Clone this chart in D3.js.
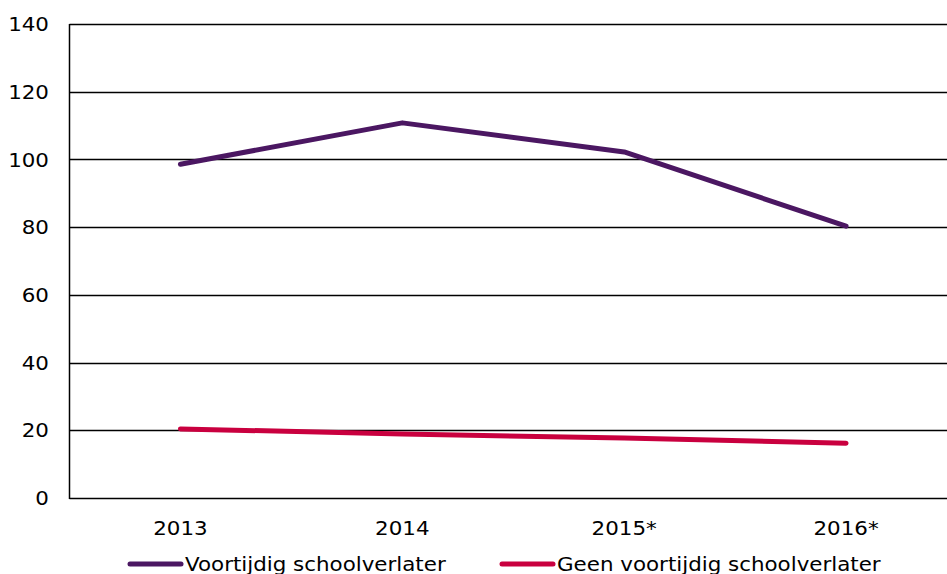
<!DOCTYPE html>
<html>
<head>
<meta charset="utf-8">
<script src="https://cdn.jsdelivr.net/npm/d3@7"></script>
<style>
  body { margin: 0; background: #fff; }
  svg text { font-family: "DejaVu Sans", Verdana, sans-serif; font-size: 20px; fill: #000; }
</style>
</head>
<body>
<svg id="chart" width="947" height="574"></svg>
<script>
var years = ["2013", "2014", "2015*", "2016*"];
var voortijdig = [98.6, 110.8, 102.2, 80.3];
var geenVoortijdig = [20.4, 18.9, 17.7, 16.2];
var yTicks = [0, 20, 40, 60, 80, 100, 120, 140];

var series = [
  { name: "Voortijdig schoolverlater", values: voortijdig, color: "#4b1762" },
  { name: "Geen voortijdig schoolverlater", values: geenVoortijdig, color: "#c9003f" }
];

var svg = d3.select("#chart");
var plotLeft = 69.5, plotTop = 24, plotBottom = 498, plotRight = 957;
var stretch = 1.07; // reference font is a bit wider than DejaVu

var x = d3.scalePoint().domain(years).range([plotLeft, plotRight]).padding(0.5);
var y = d3.scaleLinear().domain([0, 140]).range([plotBottom, plotTop]);

// gridlines
svg.append("g")
  .selectAll("line")
  .data(yTicks)
  .enter().append("line")
    .attr("x1", plotLeft).attr("x2", 947)
    .attr("y1", function(d) { return Math.round(y(d)) + 0.5; })
    .attr("y2", function(d) { return Math.round(y(d)) + 0.5; })
    .attr("stroke", "#000").attr("stroke-width", 1.5);

// y axis line
svg.append("line")
  .attr("x1", plotLeft).attr("x2", plotLeft)
  .attr("y1", plotTop).attr("y2", plotBottom + 1)
  .attr("stroke", "#000").attr("stroke-width", 1.5);

// y labels
svg.append("g")
  .selectAll("text")
  .data(yTicks)
  .enter().append("text")
    .attr("transform", function(d) { return "translate(49," + y(d) + ") scale(" + stretch + ",1)"; })
    .attr("dy", "0.36em")
    .attr("text-anchor", "end")
    .text(function(d) { return d; });

// x labels
svg.append("g")
  .selectAll("text")
  .data(years)
  .enter().append("text")
    .attr("transform", function(d) { return "translate(" + x(d) + ",535) scale(" + stretch + ",1)"; })
    .attr("text-anchor", "middle")
    .text(function(d) { return d; });

var line = d3.line()
  .x(function(d, i) { return x(years[i]); })
  .y(function(d) { return y(d); });

svg.append("g")
  .selectAll("path")
  .data(series)
  .enter().append("path")
    .attr("d", function(d) { return line(d.values); })
    .attr("fill", "none")
    .attr("stroke", function(d) { return d.color; })
    .attr("stroke-width", 5)
    .attr("stroke-linecap", "round")
    .attr("stroke-linejoin", "round");

// legend
var legendX = [130, 502];
var lg = svg.append("g")
  .selectAll("g")
  .data(series)
  .enter().append("g")
    .attr("transform", function(d, i) { return "translate(" + legendX[i] + ",564)"; });

lg.append("line")
  .attr("x1", 0).attr("x2", 51)
  .attr("stroke", function(d) { return d.color; })
  .attr("stroke-width", 5)
  .attr("stroke-linecap", "round");

lg.append("text")
  .attr("transform", "translate(55,0) scale(" + stretch + ",1)")
  .attr("dy", "0.36em")
  .text(function(d) { return d.name; });
</script>
</body>
</html>
